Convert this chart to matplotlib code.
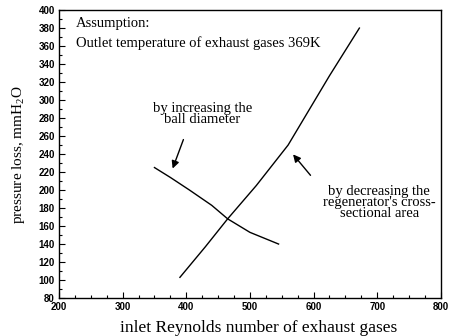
import numpy as np
import matplotlib
matplotlib.use('Agg')
import matplotlib.pyplot as plt
from matplotlib.ticker import MultipleLocator

# data
re_area = [390, 430, 465, 510, 560, 625, 672]
dp_area = [103, 137, 168, 205, 250, 327, 380]

re_ball = [350, 375, 405, 440, 465, 500, 545]
dp_ball = [225, 214, 200, 183, 168, 153, 140]

xticks = [200, 300, 400, 500, 600, 700, 800]
yticks = list(range(80, 401, 20))

plt.rcParams['mathtext.fontset'] = 'custom'
plt.rcParams['mathtext.rm'] = 'Liberation Serif'

fig = plt.figure(figsize=(4.54, 3.36), dpi=100)
ax = fig.add_axes([0.130, 0.113, 0.841, 0.857])

ax.plot(re_area, dp_area, color='black', lw=1.0)
ax.plot(re_ball, dp_ball, color='black', lw=1.0)

ax.set_xlim(200, 800)
ax.set_ylim(80, 400)
ax.set_xticks(xticks)
ax.set_yticks(yticks)
ax.xaxis.set_minor_locator(MultipleLocator(25))
ax.yaxis.set_minor_locator(MultipleLocator(10))
ax.tick_params(which='both', direction='in', top=False, right=False)
ax.tick_params(which='major', length=4, width=0.8, pad=3)
ax.tick_params(which='minor', length=2, width=0.8)
for lab in ax.get_xticklabels() + ax.get_yticklabels():
    lab.set_fontfamily('Liberation Sans')
    lab.set_fontweight('bold')
    lab.set_fontsize(7)
for s in ax.spines.values():
    s.set_linewidth(1.0)

ax.set_xlabel('inlet Reynolds number of exhaust gases', family='Liberation Serif',
              fontsize=12.5)
ax.xaxis.set_label_coords(0.522, -0.105)
ax.xaxis.label.set_verticalalignment('center')
ax.set_ylabel(r'pressure loss, mmH$_\mathregular{2}$O', family='Liberation Serif',
              fontsize=11)
ax.yaxis.set_label_coords(-0.107, 0.5)
ax.yaxis.label.set_verticalalignment('center')

serif = dict(family='Liberation Serif', fontsize=10.5)
ax.text(227, 385, 'Assumption:', va='center', ha='left', **serif)
ax.text(227, 363, 'Outlet temperature of exhaust gases 369K', va='center', ha='left', **serif)
ax.text(425, 285, 'by increasing the\nball diameter', ha='center', va='center',
        linespacing=0.8, **serif)
ax.text(703, 186, "by decreasing the\nregenerator's cross-\nsectional area", ha='center',
        va='center', linespacing=0.8, **serif)

arrow = dict(arrowstyle='-|>', color='black', lw=1.0, mutation_scale=11)
ax.annotate('', xy=(377, 221), xytext=(397, 259), arrowprops=arrow)
ax.annotate('', xy=(565, 242), xytext=(598, 214), arrowprops=arrow)

fig.savefig('out.png', dpi=100)
